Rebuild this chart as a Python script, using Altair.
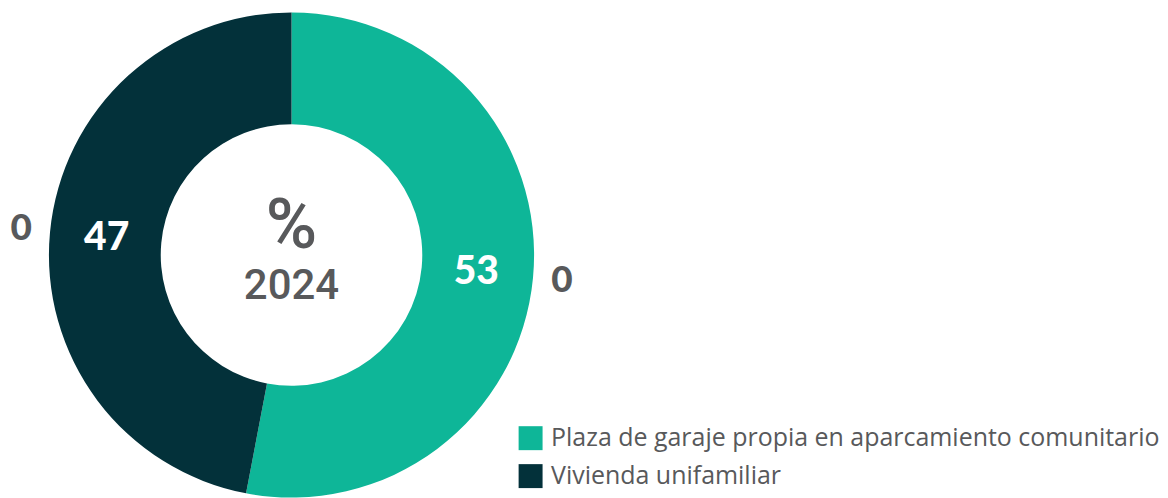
import altair as alt
import pandas as pd

categories = ["Plaza de garaje propia en aparcamiento comunitario", "Vivienda unifamiliar"]
values = [53, 47]
outer_labels = ["0", "0"]
colors = ["#0eb698", "#03313a"]
center_lines = ["%", "2024"]

df = pd.DataFrame({
    "cat": categories,
    "value": values,
    "outer": outer_labels,
    "order": list(range(len(categories))),
})

CX, CY = 284, 247
GRAY = "#58595b"

base = alt.Chart(df).encode(
    theta=alt.Theta("value:Q", stack=True),
    order=alt.Order("order:Q"),
)

arc = base.mark_arc(innerRadius=131, outerRadius=243, x=CX, y=CY).encode(
    color=alt.Color(
        "cat:N",
        scale=alt.Scale(domain=categories, range=colors),
        legend=alt.Legend(
            title=None,
            orient="none",
            legendX=511,
            legendY=418,
            symbolType="square",
            symbolSize=576,
            symbolStrokeWidth=0,
            symbolOpacity=1,
            labelFontSize=25,
            labelFont="Open Sans",
            labelColor=GRAY,
            rowPadding=12,
            labelOffset=8,
            labelLimit=800,
        ),
    )
)

inner_text = base.mark_text(
    radius=186, x=CX, y=CY, font="Lato", fontWeight=900, fontSize=39, color="white"
).encode(text="value:Q")

outer_text = base.mark_text(
    radius=272, x=CX, y=CY, font="Lato", fontWeight=900, fontSize=37, color=GRAY
).encode(text="outer:N")

pct = alt.Chart(pd.DataFrame({"t": [center_lines[0]]})).mark_text(
    x=CX, y=CY - 28, font="Roboto", fontWeight=500, fontSize=70, color=GRAY
).encode(text="t:N")
year = alt.Chart(pd.DataFrame({"t": [center_lines[1]]})).mark_text(
    x=CX, y=CY + 31, font="Roboto", fontWeight=500, fontSize=42, color=GRAY
).encode(text="t:N")

chart = alt.layer(arc, inner_text, outer_text, pct, year).properties(
    width=1150, height=482, padding=0
).configure_view(stroke=None)

chart.save("out.html", embed_options={"renderer": "svg", "actions": False})
